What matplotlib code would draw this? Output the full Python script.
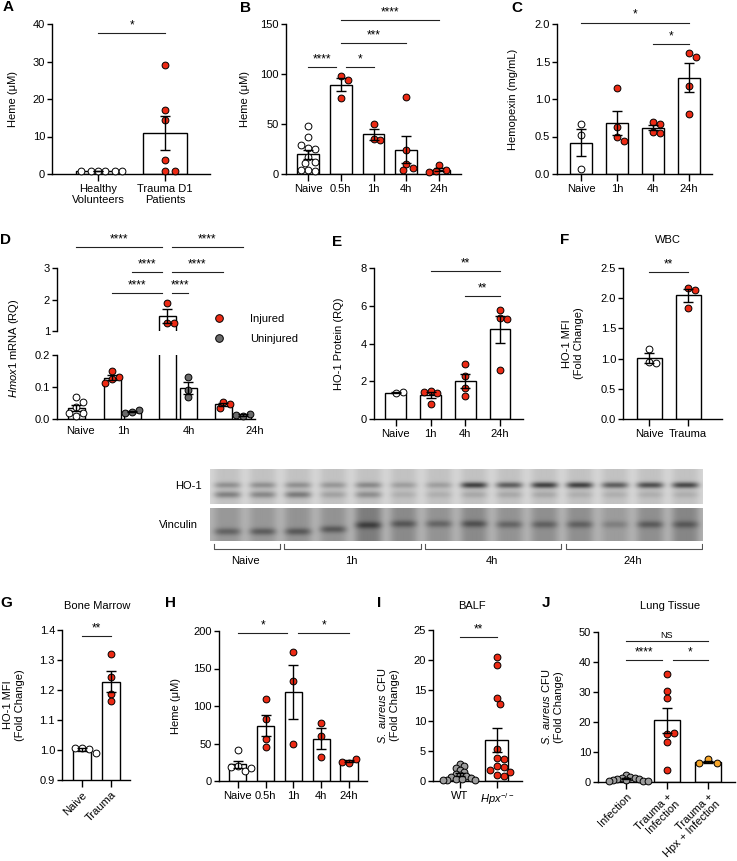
import numpy as np
import matplotlib.pyplot as plt
from matplotlib.lines import Line2D

plt.rcParams['font.family'] = ['Liberation Sans', 'DejaVu Sans']
plt.rcParams['font.size'] = 8
plt.rcParams['mathtext.fontset'] = 'custom'
plt.rcParams['mathtext.rm'] = 'Liberation Sans'
plt.rcParams['mathtext.it'] = 'Liberation Sans:italic'
plt.rcParams['axes.linewidth'] = 1.0

# ---- data ----
# A: plasma heme in patients
a_labels = ['Healthy\nVolunteers', 'Trauma D1\nPatients']
a_healthy = [0.7, 0.7, 0.7, 0.7, 0.7, 0.7]
a_trauma = [29.0, 17.0, 14.5, 3.8, 0.8, 0.8]

# B: plasma heme after trauma (mice)
b_labels = ['Naive', '0.5h', '1h', '4h', '24h']
b_naive = [48, 37, 26, 25, 29, 17, 12, 11, 4, 3, 4]
b_05h = [98, 94, 76]
b_1h = [50, 35, 34]
b_4h = [77, 24, 10, 6, 4]
b_24h = [9, 4, 3, 2]

# C: hemopexin
c_labels = ['Naive', '1h', '4h', '24h']
c_naive = [0.67, 0.52, 0.07]
c_1h = [1.15, 0.63, 0.50, 0.44]
c_4h = [0.69, 0.67, 0.56, 0.55]
c_24h = [1.61, 1.56, 1.17, 0.80]

# D: Hmox1 mRNA, injured / uninjured
d_labels = ['Naive', '1h', '4h', '24h']
d_naive = [0.070, 0.052, 0.036, 0.020, 0.018, 0.008]
d_1h_inj = [0.149, 0.131, 0.125, 0.113]
d_1h_uninj = [0.022, 0.028, 0.020]
d_4h_inj = [1.90, 1.26, 1.25]
d_4h_uninj = [0.130, 0.092, 0.068]
d_24h_inj = [0.054, 0.048, 0.034]
d_24h_uninj = [0.008, 0.017, 0.012]

# E: HO-1 protein
e_labels = ['Naive', '1h', '4h', '24h']
e_naive = [1.38, 1.42]
e_1h = [1.49, 1.38, 1.42, 0.78]
e_4h = [2.94, 2.29, 1.65, 1.22]
e_24h = [5.78, 5.34, 5.28, 2.59]

# F: WBC HO-1 MFI
f_labels = ['Naive', 'Trauma']
f_naive = [1.16, 0.95, 0.92]
f_trauma = [2.17, 2.14, 1.84]

# blot band intensities (0 = none, 1 = dark)
blot_groups = ['Naive', '1h', '4h', '24h']
blot_lanes = [2, 4, 4, 4]
ho1_upper = [0.35, 0.35, 0.35, 0.30, 0.40, 0.25, 0.25, 0.90, 0.70, 0.90, 0.90, 0.70, 0.80, 0.85]
ho1_lower = [0.50, 0.45, 0.55, 0.25, 0.40, 0.15, 0.15, 0.20, 0.20, 0.20, 0.15, 0.15, 0.15, 0.15]
vinc_band = [0.45, 0.50, 0.50, 0.50, 0.55, 0.45, 0.40, 0.50, 0.40, 0.40, 0.40, 0.25, 0.45, 0.40]
vinc_lane = [0.30, 0.30, 0.35, 0.35, 0.60, 0.45, 0.35, 0.45, 0.35, 0.40, 0.40, 0.25, 0.40, 0.50]
vinc_pos = [0.72, 0.72, 0.72, 0.65, 0.52, 0.48, 0.48, 0.48, 0.50, 0.50, 0.50, 0.50, 0.50, 0.50]

# G: bone marrow HO-1 MFI
g_labels = ['Naive', 'Trauma']
g_naive = [1.008, 1.005, 1.006, 0.99]
g_trauma = [1.32, 1.242, 1.187, 1.162]

# H: heme
h_labels = ['Naive', '0.5h', '1h', '4h', '24h']
h_naive = [41, 20, 13, 19, 18]
h_05h = [110, 83, 56, 46]
h_1h = [172, 134, 50]
h_4h = [78, 60, 32]
h_24h = [24, 30, 26]

# I: BALF CFU
i_labels = ['WT', r'$\it{Hpx}^{-/-}$']
i_wt = [2.8, 2.5, 2.2, 1.8, 1.5, 1.2, 1.0, 0.8, 0.6, 0.5, 0.4, 0.3, 0.2, 0.2, 0.1]
i_hpx = [20.6, 19.2, 13.8, 12.7, 5.3, 3.8, 3.6, 2.5, 2.3, 1.8, 1.5, 1.0, 0.9]

# J: lung tissue CFU
j_labels = ['Infection', 'Trauma +\nInfection', 'Trauma +\nHpx + Infection']
j_inf = [2.4, 1.6, 1.5, 1.3, 1.1, 1.0, 0.8, 0.7, 0.5, 0.4, 0.3]
j_tr = [36.0, 30.3, 28.0, 16.0, 16.5, 13.4, 3.9]
j_hpx = [7.6, 6.2, 6.2]

RED = '#ec2a14'
GRAY = '#9c9c9c'
DGRAY = '#6a6a6a'
ORANGE = '#f5a52a'
WHITE = 'white'

W, H = 737, 861
fig = plt.figure(figsize=(W / 100, H / 100), dpi=100)


def px_ax(x0, y0, x1, y1):
    return fig.add_axes([x0 / W, 1 - y1 / H, (x1 - x0) / W, (y1 - y0) / H])


def style(ax, xlim, ylim, yticks, fmt=None):
    ax.spines[['top', 'right']].set_visible(False)
    ax.set_xlim(xlim)
    ax.set_ylim(ylim)
    ax.set_yticks(yticks)
    if fmt:
        ax.set_yticklabels([fmt.format(t) for t in yticks])
    ax.tick_params(axis='y', length=3.5, width=1, pad=1.5)
    ax.tick_params(axis='x', length=5, width=1, pad=2)


def ylab(ax, text, off):
    ax.set_ylabel(text)
    ax.yaxis.set_label_coords(-off / (ax.get_position().width * W), 0.5)
    ax.yaxis.label.set_va('center')


def swarm_x(ax, x0, vals, diam=7.0, pack=0.97):
    tr = ax.transData
    pts = tr.transform(np.column_stack([np.full(len(vals), x0), vals]))
    placed = []
    for px, py in pts:
        for k in range(80):
            off = ((k + 1) // 2) * (1 if k % 2 else -1) * diam * 0.5 * pack
            cx = px + off
            if all((cx - qx) ** 2 + (py - qy) ** 2 >= (diam * pack) ** 2 for qx, qy in placed):
                break
        placed.append((cx, py))
    placed = np.array(placed)
    return tr.inverted().transform(placed)[:, 0]


def bar_group(ax, x, vals, color, width, lo=None, hi=None, pack=0.97):
    vals = np.asarray(vals, dtype=float)
    m = vals.mean()
    sem = vals.std(ddof=1) / np.sqrt(len(vals))
    ax.bar(x, m, width=width, color='white', edgecolor='black', linewidth=1.0, zorder=2)
    show = vals
    if lo is not None:
        show = vals[(vals >= lo) & (vals <= hi)]
    if len(show):
        xs = swarm_x(ax, x, show, pack=pack)
        ax.scatter(xs, show, s=24, c=color, edgecolors='black', linewidths=0.7,
                   zorder=3, clip_on=False)
    if lo is None or lo <= m <= hi:
        ax.errorbar(x, m, yerr=sem, fmt='none', ecolor='black', elinewidth=1.0,
                    capsize=3.5, capthick=1.0, zorder=4, clip_on=lo is not None)


def sig(ax, x1, x2, y, text, fs=8.5):
    ax.plot([x1, x2], [y, y], color='#222222', lw=0.8, clip_on=False)
    ax.annotate(text, xy=((x1 + x2) / 2, y), xytext=(0, 1.2), textcoords='offset points',
                ha='center', va='bottom', fontsize=fs, annotation_clip=False)


def simple_panel(ax, groups, colors, labels, width, packs=None):
    packs = packs or [0.97] * len(groups)
    for i, (vals, col, pk) in enumerate(zip(groups, colors, packs)):
        bar_group(ax, i, vals, col, width, pack=pk)
    ax.set_xticks(range(len(labels)))
    ax.set_xticklabels(labels)


def ftext(x, y, s, **kw):
    fig.text(x / W, 1 - y / H, s, ha='center', va='center', **kw)


# ---- A ----
ax = px_ax(52, 24, 210, 174)
style(ax, (-0.69, 1.67), (0, 40), [0, 10, 20, 30, 40])
simple_panel(ax, [a_healthy, a_trauma], [WHITE, RED], a_labels, 0.65)
sig(ax, 0, 1, 37.6, '*')
ylab(ax, 'Heme (μM)', 39)

# ---- B ----
ax = px_ax(286, 24, 461, 174)
style(ax, (-0.67, 4.67), (0, 150), [0, 50, 100, 150])
simple_panel(ax, [b_naive, b_05h, b_1h, b_4h, b_24h], [WHITE] + [RED] * 4, b_labels, 0.67)
sig(ax, 0, 0.85, 107, '****')
sig(ax, 1.15, 2, 107, '*')
sig(ax, 1, 3, 130.7, '***')
sig(ax, 1, 4, 154, '****')
ylab(ax, 'Heme (μM)', 41)

# ---- C ----
ax = px_ax(557, 24, 712, 174)
style(ax, (-0.67, 3.64), (0, 2.0), [0, 0.5, 1.0, 1.5, 2.0], '{:.1f}')
simple_panel(ax, [c_naive, c_1h, c_4h, c_24h], [WHITE] + [RED] * 3, c_labels, 0.63)
sig(ax, 0, 3, 2.02, '*')
sig(ax, 2, 3, 1.73, '*')
ylab(ax, 'Hemopexin (mg/mL)', 44)

# ---- D (broken axis) ----
d_x = [0, 1.8, 2.8, 4.55, 5.6, 7.35, 8.35]
d_sets = [d_naive, d_1h_inj, d_1h_uninj, d_4h_inj, d_4h_uninj, d_24h_inj, d_24h_uninj]
d_cols = [WHITE, RED, DGRAY, RED, DGRAY, RED, DGRAY]
d_xlim = (-0.95, 8.95)
axl = px_ax(57, 355, 255, 419)
style(axl, d_xlim, (0, 0.2), [0, 0.1, 0.2], '{:.1f}')
axu = px_ax(57, 268, 255, 331)
style(axu, d_xlim, (1, 3), [1, 2, 3], '{:.0f}')
axu.spines['bottom'].set_visible(False)
axu.set_xticks([])
for x, vals, col in zip(d_x, d_sets, d_cols):
    bar_group(axl, x, vals, col, 0.85, lo=0, hi=0.2)
    bar_group(axu, x, vals, col, 0.85, lo=1, hi=3)
axl.set_xticks([0.2, 2.35, 5.65, 8.95])
axl.set_xticklabels(d_labels)
axl.tick_params(axis='x', length=0, pad=5)
sig(axu, 0, 4.3, 3.67, '****')
sig(axu, 4.8, 8.35, 3.67, '****')
sig(axu, 2.8, 4.3, 2.87, '****')
sig(axu, 4.8, 7.35, 2.87, '****')
sig(axu, 1.8, 4.3, 2.21, '****')
sig(axu, 4.8, 5.6, 2.21, '****')
ftext(14, 348, r'$\it{Hmox1}$ mRNA (RQ)', rotation=90)
handles = [Line2D([], [], marker='o', ls='none', markerfacecolor=c, markeredgecolor='black',
                  markersize=5.5, mew=0.7) for c in (RED, DGRAY)]
fig.legend(handles, ['Injured', 'Uninjured'], loc='center left', frameon=False,
           bbox_to_anchor=(213.8 / W, 1 - 329 / H), borderpad=0, borderaxespad=0,
           handlelength=1.0, handletextpad=2.3, labelspacing=0.9, fontsize=8)

# ---- E ----
ax = px_ax(374, 268, 523, 419)
style(ax, (-0.63, 3.66), (0, 8), [0, 2, 4, 6, 8])
simple_panel(ax, [e_naive, e_1h, e_4h, e_24h], [WHITE] + [RED] * 3, e_labels, 0.6)
sig(ax, 1, 3, 7.86, '**')
sig(ax, 2, 3, 6.52, '**')
ylab(ax, 'HO-1 Protein (RQ)', 35)

# ---- F ----
ax = px_ax(623, 268, 722, 419)
style(ax, (-0.67, 1.87), (0, 2.5), [0, 0.5, 1.0, 1.5, 2.0, 2.5], '{:.1f}')
simple_panel(ax, [f_naive, f_trauma], [WHITE, RED], f_labels, 0.64)
sig(ax, 0, 1, 2.43, '**')
ylab(ax, 'HO-1 MFI\n(Fold Change)', 50)
ftext(668, 240, 'WBC')

# ---- blot ----
lane_w = 30
nx = lane_w * len(ho1_upper)
xx = np.arange(nx) + 0.5
centers = (np.arange(len(ho1_upper)) + 0.5) * lane_w
lane_prof = np.exp(-((xx[None, :] - centers[:, None]) / 11.5) ** 4)


def band(yy, mu, s):
    return np.exp(-0.5 * ((yy - mu) / s) ** 2)


yy1 = np.linspace(0, 1, 35)[:, None]
img1 = np.full((35, nx), 0.84)
for i in range(len(ho1_upper)):
    img1 -= lane_prof[i][None, :] * (0.08 + 0.55 * ho1_upper[i] * band(yy1, 0.46, 0.065)
                                     + 0.5 * ho1_lower[i] * band(yy1, 0.74, 0.07))
yy2 = np.linspace(0, 1, 33)[:, None]
img2 = np.full((33, nx), 0.70)
for i in range(len(vinc_band)):
    img2 -= lane_prof[i][None, :] * (0.35 * vinc_lane[i]
                                     + 0.45 * vinc_band[i] * band(yy2, vinc_pos[i], 0.08))

for (y0, y1), img in zip([(469, 504), (508, 541)], [img1, img2]):
    bx = px_ax(210, y0, 703, y1)
    bx.imshow(img, cmap='gray', vmin=0, vmax=1, aspect='auto', interpolation='bilinear')
    bx.set_axis_off()
fig.text(202 / W, 1 - 486 / H, 'HO-1', ha='right', va='center')
fig.text(198 / W, 1 - 525 / H, 'Vinculin', ha='right', va='center')

brx = px_ax(210, 541, 703, 575)
brx.set_xlim(0, sum(blot_lanes))
brx.set_ylim(34, 0)
brx.set_axis_off()
start = 0
for name, n in zip(blot_groups, blot_lanes):
    s, e = start + 0.1, start + n - 0.02
    brx.plot([s, s, e, e], [3, 8, 8, 3], color='#555555', lw=0.8)
    brx.text(start + n / 2, 20, name, ha='center', va='center')
    start += n

# ---- G ----
ax = px_ax(62, 630, 130, 780)
style(ax, (-0.69, 1.66), (0.9, 1.4), [0.9, 1.0, 1.1, 1.2, 1.3, 1.4], '{:.1f}')
simple_panel(ax, [g_naive, g_trauma], [WHITE, RED], g_labels, 0.64)
ax.set_xticklabels(g_labels, rotation=45, ha='right', rotation_mode='anchor')
sig(ax, 0, 1, 1.381, '**')
ylab(ax, 'HO-1 MFI\n(Fold Change)', 48)
ftext(97, 606, 'Bone Marrow')

# ---- H ----
ax = px_ax(219, 631, 367, 781)
style(ax, (-0.68, 4.65), (0, 200), [0, 50, 100, 150, 200])
simple_panel(ax, [h_naive, h_05h, h_1h, h_4h, h_24h], [WHITE] + [RED] * 4, h_labels, 0.62)
sig(ax, 0, 1.78, 197.8, '*')
sig(ax, 2.18, 4, 197.8, '*')
ylab(ax, 'Heme (μM)', 43)

# ---- I ----
ax = px_ax(433, 630, 522, 781)
style(ax, (-0.73, 1.68), (0, 25), [0, 5, 10, 15, 20, 25])
simple_panel(ax, [i_wt, i_hpx], [GRAY, RED], i_labels, 0.62, packs=[0.62, 0.97])
sig(ax, 0, 1, 23.8, '**')
ylab(ax, r'$\it{S.\ aureus}$ CFU' + '\n(Fold Change)', 45)
ftext(472, 606, 'BALF')

# ---- J ----
ax = px_ax(598, 632, 735, 782)
style(ax, (-0.68, 2.66), (0, 50), [0, 10, 20, 30, 40, 50])
simple_panel(ax, [j_inf, j_tr, j_hpx], [GRAY, RED, ORANGE], j_labels, 0.63,
             packs=[0.62, 0.97, 1.3])
ax.set_xticklabels(j_labels, rotation=45, ha='right', rotation_mode='anchor', linespacing=1.0)
sig(ax, 0, 2, 46.9, 'NS', fs=6.5)
sig(ax, 0, 0.87, 40.6, '****')
sig(ax, 1.15, 2, 40.6, '*')
ylab(ax, r'$\it{S.\ aureus}$ CFU' + '\n(Fold Change)', 46)
ftext(670, 606, 'Lung Tissue')

# panel letters
for letter, (x, y) in zip('ABCDEFGHIJ', [(8, 7), (246, 8), (517, 8), (6, 240), (337, 242),
                                         (565, 240), (6, 603), (171, 603), (379, 603), (546, 603)]):
    ftext(x, y, letter, fontsize=11, fontweight='bold')

fig.savefig('out.png', dpi=100)
